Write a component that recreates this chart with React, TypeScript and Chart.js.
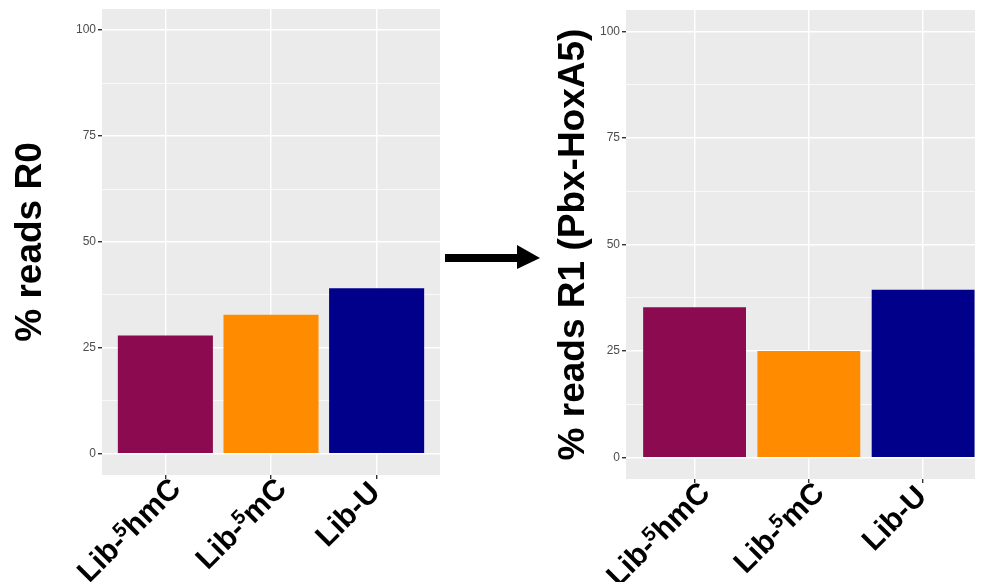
import React, { useEffect, useRef } from "react";
import { Chart, registerables } from "chart.js";

Chart.register(...registerables);

// Libraries on the x axis and the share of reads (%) in each round
const categories = ["Lib-⁵hmC", "Lib-⁵mC", "Lib-U"];
const readsR0 = [27.9, 32.8, 39.1];
const readsR1 = [35.3, 25.0, 39.4];
const barColors = ["#8B0A50", "#FF8C00", "#00008B"];
const yTickLabels = [0, 25, 50, 75, 100];

const FONT = "'Liberation Sans', Arial, Helvetica, sans-serif";
const SUP = "⁵";

// grey ggplot-style panel behind the grid
const panelBackground = {
  id: "panelBackground",
  beforeDraw(chart: any) {
    const { ctx, chartArea: a } = chart;
    ctx.save();
    ctx.fillStyle = "#EBEBEB";
    ctx.fillRect(a.left, a.top, a.right - a.left, a.bottom - a.top);
    ctx.restore();
  },
};

// x labels at 45°, with the "⁵" set as a raised small 5
const slantedLabels = {
  id: "slantedLabels",
  afterDraw(chart: any) {
    const { ctx } = chart;
    const xs = chart.scales.x;
    const size = 30;
    const supSize = 20;
    const main = `bold ${size}px ${FONT}`;
    const small = `bold ${supSize}px ${FONT}`;
    ctx.save();
    ctx.fillStyle = "#000000";
    ctx.textBaseline = "alphabetic";
    ctx.textAlign = "left";
    categories.forEach((label, i) => {
      const parts = label.split(SUP);
      const x = xs.getPixelForValue(i);
      let total = 0;
      const widths: number[] = [];
      parts.forEach((p, k) => {
        ctx.font = main;
        const w = ctx.measureText(p).width;
        widths.push(w);
        total += w;
        if (k < parts.length - 1) {
          ctx.font = small;
          total += ctx.measureText("5").width;
        }
      });
      const hasSup = parts.length > 1;
      ctx.save();
      ctx.translate(x + 5, xs.top + 19);
      ctx.rotate(-Math.PI / 4);
      let cx = -total + (hasSup ? 12 : 0);
      const by = hasSup ? 6 : 0;
      parts.forEach((p, k) => {
        ctx.font = main;
        ctx.fillText(p, cx, by);
        cx += widths[k];
        if (k < parts.length - 1) {
          ctx.font = small;
          ctx.fillText("5", cx - 1, by - size * 0.32);
          cx += ctx.measureText("5").width - 1;
        }
      });
      ctx.restore();
    });
    ctx.restore();
  },
};

type PanelOpts = {
  values: number[];
  title: string;
  yWidth: number;
  xHeight: number;
  padTop: number;
  padRight: number;
  xMin: number;
  xMax: number;
  titlePad: number;
};

function makePanel(canvas: HTMLCanvasElement, o: PanelOpts) {
  const isMajor = (v: number) => yTickLabels.includes(v);
  return new Chart(canvas, {
    type: "bar",
    data: {
      datasets: [
        {
          data: o.values.map((v, i) => ({ x: i, y: v })),
          backgroundColor: barColors,
          borderWidth: 0,
          barPercentage: 0.9,
          categoryPercentage: 1,
        },
      ],
    },
    options: {
      animation: false,
      responsive: false,
      devicePixelRatio: 1,
      layout: { padding: { top: o.padTop, right: o.padRight, left: 0, bottom: 0 } },
      plugins: { legend: { display: false }, tooltip: { enabled: false } },
      scales: {
        x: {
          type: "linear",
          min: o.xMin,
          max: o.xMax,
          offset: false,
          border: { display: false },
          grid: {
            offset: false,
            color: "#FFFFFF",
            lineWidth: 1.4,
            tickLength: 4,
            tickColor: "#333333",
          },
          ticks: {
            display: false,
            stepSize: 1,
            includeBounds: false,
            autoSkip: false,
            callback: (v: any) => categories[v] ?? "",
          },
          afterFit: (s: any) => {
            s.height = o.xHeight;
            s.paddingLeft = 0;
            s.paddingRight = 0;
          },
        },
        y: {
          type: "linear",
          min: -5,
          max: 105,
          border: { display: false },
          grid: {
            color: "#FFFFFF",
            lineWidth: (c: any) => (c.tick && isMajor(c.tick.value) ? 1.4 : 0.7),
            tickLength: 4,
            tickColor: (c: any) => (c.tick && isMajor(c.tick.value) ? "#333333" : "rgba(0,0,0,0)"),
          },
          ticks: {
            stepSize: 12.5,
            includeBounds: false,
            autoSkip: false,
            padding: 2,
            color: "#4D4D4D",
            font: { family: FONT, size: 12 },
            callback: (v: any) => (isMajor(v) ? String(v) : ""),
          },
          title: {
            display: true,
            text: o.title,
            color: "#000000",
            font: { family: FONT, size: 37, weight: "bold" },
            padding: { top: o.titlePad, bottom: 0 },
          },
          afterFit: (s: any) => {
            s.width = o.yWidth;
            s.paddingTop = 0;
            s.paddingBottom = 0;
          },
        },
      },
    },
    plugins: [panelBackground, slantedLabels],
  } as any);
}

export default function App() {
  const leftRef = useRef<HTMLCanvasElement>(null);
  const rightRef = useRef<HTMLCanvasElement>(null);

  useEffect(() => {
    const left = makePanel(leftRef.current!, {
      values: readsR0,
      title: "% reads R0",
      yWidth: 102,
      xHeight: 107,
      padTop: 9,
      padRight: 20,
      xMin: -0.6,
      xMax: 2.6,
      titlePad: 9,
    });
    const right = makePanel(rightRef.current!, {
      values: readsR1,
      title: "% reads R1 (Pbx-HoxA5)",
      yWidth: 86,
      xHeight: 103,
      padTop: 10,
      padRight: 6,
      xMin: -0.6,
      xMax: 2.454,
      titlePad: 12,
    });
    return () => {
      left.destroy();
      right.destroy();
    };
  }, []);

  return (
    <div
      style={{
        position: "absolute",
        left: 0,
        top: 0,
        width: 981,
        height: 582,
        background: "#FFFFFF",
        overflow: "hidden",
      }}
    >
      <canvas
        ref={leftRef}
        width={460}
        height={582}
        style={{ position: "absolute", left: 0, top: 0, width: 460, height: 582 }}
      />
      <svg
        width={110}
        height={40}
        style={{ position: "absolute", left: 440, top: 238 }}
      >
        <rect x={5} y={16} width={74} height={8} fill="#000000" />
        <polygon points="77,7 100,20 77,31" fill="#000000" />
      </svg>
      <canvas
        ref={rightRef}
        width={441}
        height={582}
        style={{ position: "absolute", left: 540, top: 0, width: 441, height: 582 }}
      />
    </div>
  );
}
